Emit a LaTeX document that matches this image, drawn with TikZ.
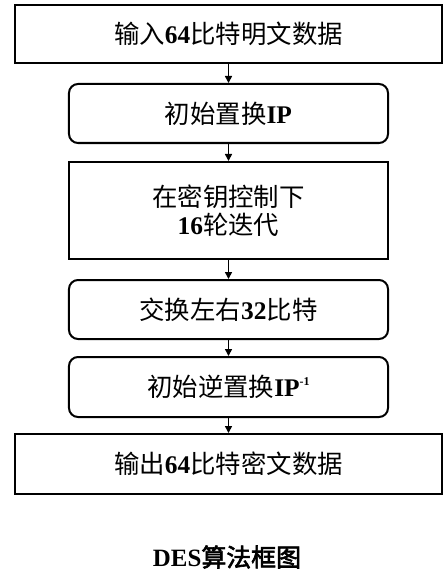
\documentclass[tikz,border=0pt]{standalone}
\usepackage{fontspec}
\setmainfont{Liberation Serif}
\newfontfamily\cjk{Noto Sans CJK SC}
\newfontfamily\cjkbold[FakeBold=2.5]{Noto Sans CJK SC}
\usetikzlibrary{arrows.meta}
\newcommand{\zh}[1]{{\cjk #1}}
\newcommand{\nb}[1]{{\bfseries #1}}
\begin{document}
\begin{tikzpicture}[x=1bp,y=-1bp,
  boxbase/.style={draw=black,line width=2bp,inner sep=0pt,font=\fontsize{25.5}{30}\selectfont,align=center},
  widebox/.style={boxbase,minimum width=427bp},
  narrowbox/.style={boxbase,minimum width=319bp},
  roundbox/.style={narrowbox,rounded corners=9bp},
  conn/.style={line width=1.6bp,-{Triangle[length=7bp,width=7bp]}}]
\useasboundingbox (0,0) rectangle (448,577);
\node[widebox,minimum height=58bp] (in) at (228.5,34) {\zh{输入}\nb{64}\zh{比特明文数据}};
\node[roundbox,minimum height=59bp] (ip) at (228.5,113.5) {\zh{初始置换}\nb{IP}};
\node[narrowbox,minimum height=97bp] (rounds) at (228.5,210.5) {\zh{在密钥控制下}\\[-2bp]\nb{16}\zh{轮迭代}};
\node[roundbox,minimum height=59bp] (swap) at (228.5,309.5) {\zh{交换左右}\nb{32}\zh{比特}};
\node[roundbox,minimum height=60bp] (ipinv) at (228.5,387) {\zh{初始逆置换}\nb{IP}\raisebox{0.45em}{\fontsize{12}{12}\selectfont\nb{-1}}};
\node[widebox,minimum height=60bp] (out) at (228.5,464) {\zh{输出}\nb{64}\zh{比特密文数据}};
\node[font=\fontsize{25}{30}\selectfont] (cap) at (227,557) {\nb{DES}{\cjkbold 算法框图}};
\draw[conn] (in) -- (ip);
\draw[conn] (ip) -- (rounds);
\draw[conn] (rounds) -- (swap);
\draw[conn] (swap) -- (ipinv);
\draw[conn] (ipinv) -- (out);
\end{tikzpicture}
\end{document}
